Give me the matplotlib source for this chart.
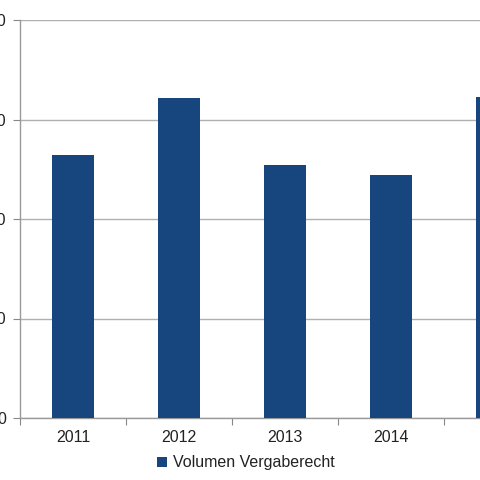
import matplotlib
matplotlib.use("Agg")
import matplotlib.pyplot as plt
import numpy as np

years = ["2011", "2012", "2013", "2014", "2015"]
values = [264, 322, 254, 244, 323]
yticks = [0, 100, 200, 300, 400]
series_name = "Volumen Vergaberecht"

plt.rcParams['font.family'] = ['Liberation Sans', 'DejaVu Sans']

fig = plt.figure(figsize=(4.8, 4.8), dpi=100)
W = H = 480.0
ax = fig.add_axes([20 / W, 1 - 418 / H, 530 / W, 398 / H])

x = np.arange(len(years))
color = "#17467f"
ax.bar(x, values, width=0.4, color=color, zorder=3, label=series_name)

ax.set_xlim(-0.5, len(years) - 0.5)
ax.set_ylim(0, 400)
ax.set_yticks(yticks)
ax.set_yticklabels([str(v) for v in yticks], fontsize=11.5, color="#222222")
ax.yaxis.grid(True, color="#b0b0b0", linewidth=1, zorder=0)

ax.set_xticks(x)
ax.set_xticklabels(years, fontsize=11.5, color="#222222")
ax.tick_params(axis='x', length=0, pad=9)
ax.set_xticks(np.arange(len(years) + 1) - 0.5, minor=True)
ax.tick_params(axis='x', which='minor', length=5, color="#888888", width=0.8)
ax.tick_params(axis='y', length=5, color="#888888", width=0.8, pad=5)

for s in ["top", "right"]:
    ax.spines[s].set_visible(False)
for s in ["left", "bottom"]:
    ax.spines[s].set_color("#999999")
    ax.spines[s].set_linewidth(1)

fig.legend(loc="center", bbox_to_anchor=(246 / W, 1 - 463 / H), frameon=False,
           fontsize=11.5, handlelength=0.6, handleheight=0.6, handletextpad=0.4,
           labelcolor="#222222")

fig.savefig("out.png", dpi=100)
